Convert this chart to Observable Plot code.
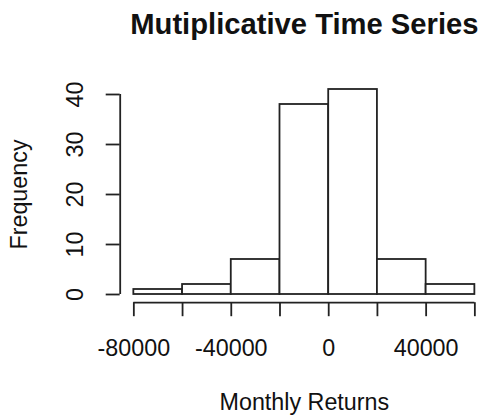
<!DOCTYPE html>
<html>
<head>
<meta charset="utf-8">
<script src="https://cdn.jsdelivr.net/npm/d3@7"></script>
<script src="https://cdn.jsdelivr.net/npm/@observablehq/plot@0.6"></script>
<style>
  html, body { margin: 0; padding: 0; background: #fff; }
  svg { display: block; }
</style>
</head>
<body>
<div id="chart"></div>
<script>
// ---- data ----
const binStarts = [-80000, -60000, -40000, -20000, 0, 20000, 40000];
const binWidth = 20000;
const counts = [1, 2, 7, 38, 41, 7, 2];
const xTicks = [-80000, -60000, -40000, -20000, 0, 20000, 40000, 60000];
const xLabels = [-80000, -40000, 0, 40000];
const yTicks = [0, 10, 20, 30, 40];
const title = "Mutiplicative Time Series";
const xTitle = "Monthly Returns";
const yTitle = "Frequency";

// ---- derived ----
const bins = binStarts.map((s, i) => ({x1: s, x2: s + binWidth, count: counts[i]}));
const xLim = [d3.min(binStarts), d3.max(binStarts) + binWidth];
const yLim = [0, d3.max(counts)];
const pad = (lim) => { const r = lim[1] - lim[0]; return [lim[0] - 0.04 * r, lim[1] + 0.04 * r]; };
const xUsr = pad(xLim);
const yUsr = pad(yLim);

const font = "'Liberation Sans', Arial, Helvetica, sans-serif";
const ink = "#222";
const lw = 1.8;
const fs = 23.3;

const chart = Plot.plot({
  width: 480,
  height: 415,
  marginLeft: 119.7,
  marginRight: -8,
  marginTop: 80.8,
  marginBottom: 112.8,
  style: {fontFamily: font, background: "#fff", overflow: "visible"},
  x: {domain: xUsr, label: null},
  y: {domain: yUsr, label: null},
  marks: [
    Plot.rect(bins, {x1: "x1", x2: "x2", y1: 0, y2: "count", fill: "#fff", stroke: ink, strokeWidth: lw}),
    // y axis
    Plot.ruleX([xUsr[0]], {y1: d3.min(yTicks), y2: d3.max(yTicks), stroke: ink, strokeWidth: lw}),
    Plot.axisY({ticks: yTicks, tickSize: 14, tickFormat: () => "", label: null, stroke: ink, strokeWidth: lw, color: ink}),
    Plot.text(yTicks, {y: d => d, text: d => String(d), frameAnchor: "left", rotate: -90, lineAnchor: "bottom", textAnchor: "middle", dx: -37, fontSize: fs, fill: "#111"}),
    // x axis
    Plot.ruleY([yUsr[0]], {x1: d3.min(xTicks), x2: d3.max(xTicks), stroke: ink, strokeWidth: lw}),
    Plot.axisX({ticks: xTicks, tickSize: 14, tickFormat: () => "", label: null, stroke: ink, strokeWidth: lw, color: ink}),
    Plot.text(xLabels, {x: d => d, text: d => String(d), frameAnchor: "bottom", lineAnchor: "bottom", dy: 52.8, fontSize: fs, fill: "#111"}),
    // titles
    Plot.text([title], {frameAnchor: "top", lineAnchor: "bottom", dy: -47.8, fontSize: 29.2, fontWeight: "bold", fill: "#111"}),
    Plot.text([xTitle], {frameAnchor: "bottom", lineAnchor: "bottom", dy: 107, fontSize: fs, fill: "#111"}),
    Plot.text([yTitle], {frameAnchor: "left", rotate: -90, lineAnchor: "bottom", textAnchor: "middle", dx: -93, dy: 2.5, fontSize: fs, fill: "#111"})
  ]
});
document.getElementById("chart").appendChild(chart);
</script>
</body>
</html>
